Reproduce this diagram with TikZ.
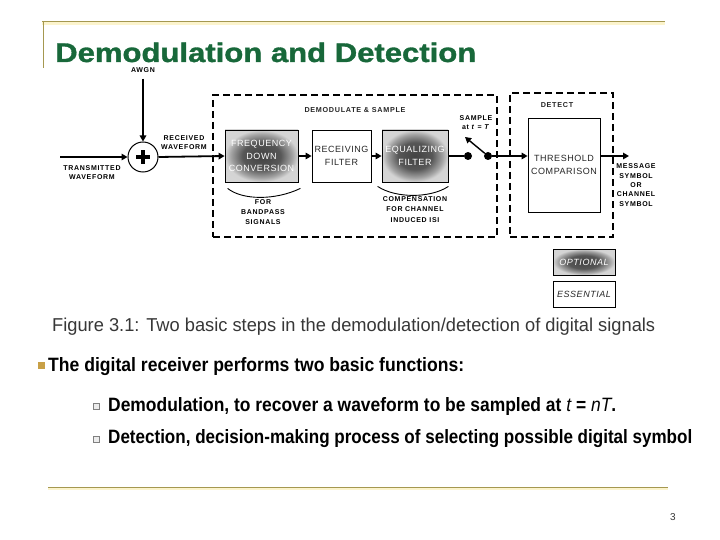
\documentclass[tikz,border=0pt]{standalone}
\usepackage{fontspec}
\setmainfont{Liberation Sans}
\usepackage{graphicx}
\usetikzlibrary{arrows.meta,calc}
\newfontfamily\dfam[LetterSpace=6]{Liberation Sans}
\newfontfamily\lfam[LetterSpace=10]{Liberation Sans}
\newfontfamily\titlefam[BoldFeatures={FakeBold=1.2}]{Liberation Sans}
\definecolor{titlegreen}{RGB}{24,104,58}
\definecolor{rulecol}{RGB}{165,152,80}
\definecolor{glowcol}{RGB}{252,244,205}
\definecolor{bulletgold}{RGB}{200,160,70}
\definecolor{captiongray}{RGB}{55,55,55}
\pgfdeclareradialshading{blob}{\pgfpoint{0bp}{0bp}}{color(0bp)=(black!74); color(13bp)=(black!66); color(21bp)=(black!36); color(25bp)=(black!17); color(50bp)=(black!14)}
\begin{document}
\begin{tikzpicture}[x=1pt,y=-1pt,
 blk/.style={draw=black,line width=0.8pt,inner sep=0pt,align=center,font=\dfam\fontsize{9}{12.5}\selectfont,text=black!85},
 shadedblk/.style={blk,shade,shading=blob,text=white},
 dbox/.style={draw=black,line width=2.4pt,dash pattern=on 7pt off 4pt,inner sep=0pt},
 lab/.style={font=\lfam\bfseries\fontsize{7}{9.5}\selectfont,align=center,inner sep=0pt},
 hdr/.style={font=\lfam\bfseries\fontsize{7.2}{9}\selectfont,inner sep=0pt,text=black!85},
 arr/.style={line width=1.8pt,-{Triangle[length=6pt,width=6.5pt]}},
 wire/.style={line width=1.8pt},
 swdot/.style={circle,fill=black,minimum size=8pt,inner sep=0pt},
 txt/.style={anchor=base west,inner sep=0pt}
]
\useasboundingbox (0,0) rectangle (720,540);
\fill[white] (0,0) rectangle (720,540);
% rules
\draw[glowcol,line width=3pt] (42,23.5) -- (665,23.5);
\draw[rulecol,line width=1pt] (42,22) -- (665,22);
\draw[rulecol,line width=1pt] (43,22) -- (43,68);
\draw[glowcol,line width=3pt] (48,488.5) -- (668,488.5);
\draw[rulecol,line width=1pt] (48,487) -- (668,487);
% title
\node[txt,text=titlegreen] (title) at (55,62) {\resizebox{421pt}{19.5pt}{\titlefam\bfseries Demodulation and Detection}};
% dashed boxes
\node[dbox,minimum width=284pt,minimum height=142pt] (demod) at (355,166) {};
\node[dbox,minimum width=103pt,minimum height=144pt] (detect) at (561.5,165) {};
\node[hdr] (demodt) at (355,110) {DEMODULATE \& SAMPLE};
\node[hdr] (detectt) at (557,105) {DETECT};
% blocks
\node[shadedblk,minimum width=73pt,minimum height=52pt] (freq) at (261.5,156) {FREQUENCY\\DOWN\\CONVERSION};
\node[blk,minimum width=59pt,minimum height=52pt,font=\dfam\fontsize{9}{13}\selectfont] (recv) at (341.5,156) {RECEIVING\\FILTER};
\node[shadedblk,minimum width=66pt,minimum height=52pt,font=\dfam\fontsize{9}{13}\selectfont] (eq) at (415,156) {EQUALIZING\\FILTER};
\node[blk,minimum width=72pt,minimum height=94pt,font=\dfam\fontsize{9}{13}\selectfont] (thr) at (564,165) {THRESHOLD\\COMPARISON};
% summing junction
\node[lab] (awgn) at (143,70) {AWGN};
\node[circle,draw,line width=1pt,minimum size=30pt,inner sep=0pt] (sum) at (143,157) {};
\draw[line width=3.6pt] ([xshift=-7pt]sum.center) -- ([xshift=7pt]sum.center);
\draw[line width=3.6pt] ([yshift=-7pt]sum.center) -- ([yshift=7pt]sum.center);
\draw[arr] ([yshift=-6pt]awgn.south) -- (sum.north);
\coordinate (tx) at (60,157);
\draw[arr] (tx) -- (sum.west);
\node[lab] (txl) at (92,172.5) {TRANSMITTED\\WAVEFORM};
\draw[arr] (sum.east) -- (freq.west);
\node[lab] (rxl) at (184,142.5) {RECEIVED\\WAVEFORM};
% chain
\draw[arr] (freq.east) -- (recv.west);
\draw[arr] (recv.east) -- (eq.west);
\node[swdot] (sw1) at (468,156) {};
\node[swdot] (sw2) at (488,156) {};
\draw[wire] (eq.east) -- (sw1);
\coordinate (swtip) at (465,137);
\draw[line width=1.4pt,-{Triangle[length=6pt,width=6.5pt]}] (sw2) -- (swtip);
\node[lab] (samp) at (476,122.5) {SAMPLE\\at \textit{t} = \textit{T}};
\draw[arr] (sw2) -- (sw2 -| thr.west);
\coordinate (msg) at (629,156);
\draw[arr] (thr.east |- msg) -- (msg);
\node[lab,font=\lfam\bfseries\fontsize{7}{9.3}\selectfont] (msgl) at (636,185) {MESSAGE\\SYMBOL\\OR\\CHANNEL\\SYMBOL};
% braces
\draw[line width=0.9pt] ([xshift=3pt,yshift=-6pt]freq.south west) .. controls +(15,12) and +(-25,12) .. ([xshift=2pt,yshift=-6pt]freq.south east);
\draw[line width=0.9pt] ([xshift=-4pt,yshift=-4pt]eq.south west) .. controls +(18,12) and +(-18,12) .. ([yshift=-4pt]eq.south east);
\node[lab,font=\lfam\bfseries\fontsize{7}{10}\selectfont] (bp) at (263,212) {FOR\\BANDPASS\\SIGNALS};
\node[lab,font=\lfam\bfseries\fontsize{7}{10.5}\selectfont] (isi) at (415,209.5) {COMPENSATION\\FOR CHANNEL\\INDUCED ISI};
% legend
\node[shadedblk,font=\dfam\itshape\fontsize{9}{12}\selectfont,minimum width=62pt,minimum height=26pt] (opt) at (584,262) {OPTIONAL};
\node[blk,font=\dfam\itshape\fontsize{9}{12}\selectfont,minimum width=62pt,minimum height=26pt] (ess) at (584,294) {ESSENTIAL};
% caption and bullets
\node[txt,text=captiongray] (cap) at (52,331) {\resizebox{603pt}{13.5pt}{Figure 3.1: Two basic steps in the demodulation/detection of digital signals}};
\node[fill=bulletgold,minimum size=7pt,inner sep=0pt] (b0) at (41.5,365) {};
\node[txt] (l0) at (48,371.5) {\resizebox{416pt}{14pt}{\bfseries The digital receiver performs two basic functions:}};
\node[draw=gray,fill=gray!15,line width=0.6pt,minimum size=6pt,inner sep=0pt] (b1) at (96,406) {};
\node[txt] (l1) at (108,411) {\resizebox{508pt}{14pt}{\bfseries Demodulation, to recover a waveform to be sampled at {\mdseries\itshape t} = {\mdseries\itshape nT}.}};
\node[draw=gray,fill=gray!15,line width=0.6pt,minimum size=6pt,inner sep=0pt] (b2) at (96,439) {};
\node[txt] (l2) at (108,443.5) {\resizebox{584pt}{14pt}{\bfseries Detection, decision-making process of selecting possible digital symbol}};
\node[font=\fontsize{10}{12}\selectfont,text=captiongray] (pg) at (673,517) {3};
\end{tikzpicture}
\end{document}
